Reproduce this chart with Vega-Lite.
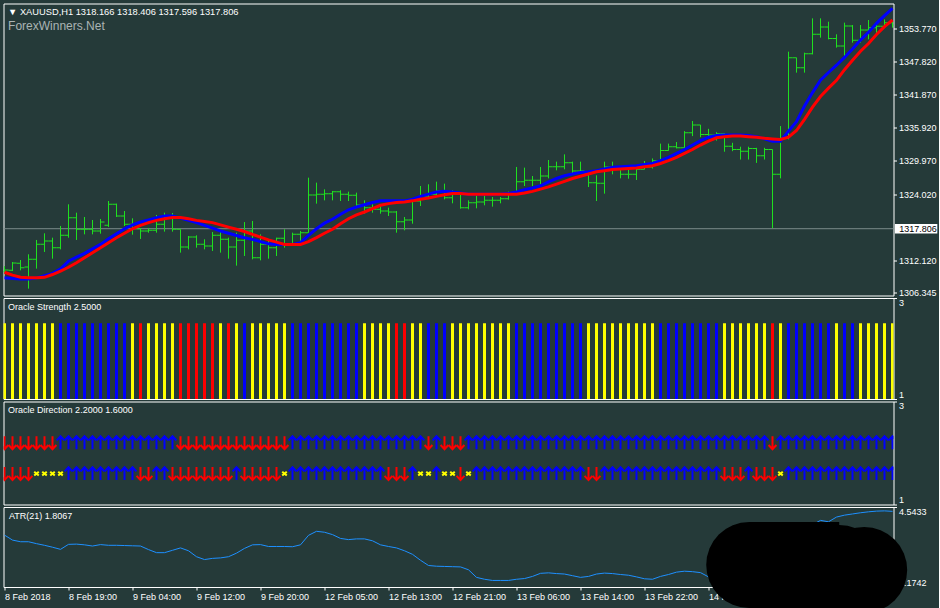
{
"$schema": "https://vega.github.io/schema/vega-lite/v6.json",
"background": "#253a39",
"padding": {"left": 2.5, "top": 2.5, "right": 0, "bottom": 0},
"bounds": "flush",
"spacing": 2.5,
"resolve": {"scale": {"color": "independent", "shape": "independent"}},
"config": {
  "view": {"stroke": "#ffffff", "strokeWidth": 1},
  "axis": {"labelColor": "#ffffff", "tickColor": "#ffffff", "domain": false, "grid": false, "labelFont": "Liberation Sans", "labelFontSize": 9, "tickSize": 3},
  "text": {"font": "Liberation Sans"}
},
"datasets": {
"one": [{}],
"blob": [{"x": 93.09, "y": 2.1007}, {"x": 104.34, "y": 1.9744}, {"x": 107.46, "y": 1.8902}],
"bars": [
{"i":0,"o":1310.2,"h":1311.1,"l":1309.9,"c":1310.4,"b":1309.0,"r":1310.0,"s":"Y","d1":"d","d2":"d","a":3.36},
{"i":1,"o":1310.35,"h":1311.84,"l":1310.23,"c":1311.66,"b":1308.9,"r":1309.5,"s":"Y","d1":"d","d2":"d","a":3.15},
{"i":2,"o":1311.6,"h":1312.2,"l":1310.35,"c":1310.83,"b":1308.8,"r":1309.1,"s":"Y","d1":"d","d2":"d","a":3.08},
{"i":3,"o":1310.95,"h":1313.22,"l":1307.07,"c":1312.32,"b":1308.8,"r":1309.0,"s":"Y","d1":"d","d2":"d","a":3.08},
{"i":4,"o":1312.32,"h":1315.79,"l":1310.65,"c":1315.01,"b":1309.0,"r":1309.0,"s":"Y","d1":"d","d2":"x","a":3.0},
{"i":5,"o":1315.01,"h":1316.98,"l":1313.64,"c":1315.61,"b":1309.4,"r":1309.1,"s":"Y","d1":"d","d2":"x","a":2.93},
{"i":6,"o":1315.61,"h":1316.2,"l":1312.44,"c":1314.41,"b":1309.8,"r":1309.6,"s":"Y","d1":"d","d2":"x","a":2.85},
{"i":7,"o":1314.41,"h":1318.3,"l":1314.11,"c":1316.62,"b":1310.6,"r":1310.2,"s":"B","d1":"u","d2":"x","a":2.76},
{"i":8,"o":1316.62,"h":1322.18,"l":1316.2,"c":1319.79,"b":1312.0,"r":1310.9,"s":"B","d1":"u","d2":"u","a":2.97},
{"i":9,"o":1319.79,"h":1320.68,"l":1315.79,"c":1317.7,"b":1312.7,"r":1311.7,"s":"B","d1":"u","d2":"u","a":2.98},
{"i":10,"o":1317.7,"h":1319.91,"l":1316.8,"c":1317.7,"b":1313.4,"r":1312.6,"s":"B","d1":"u","d2":"u","a":2.95},
{"i":11,"o":1317.7,"h":1319.37,"l":1316.8,"c":1317.4,"b":1314.2,"r":1313.5,"s":"B","d1":"u","d2":"u","a":2.9},
{"i":12,"o":1317.4,"h":1319.55,"l":1316.92,"c":1319.0,"b":1315.0,"r":1314.4,"s":"B","d1":"u","d2":"u","a":2.96},
{"i":13,"o":1318.41,"h":1322.77,"l":1318.12,"c":1322.18,"b":1316.0,"r":1315.3,"s":"B","d1":"u","d2":"u","a":2.93},
{"i":14,"o":1322.18,"h":1322.3,"l":1319.91,"c":1320.09,"b":1316.9,"r":1316.2,"s":"B","d1":"u","d2":"u","a":2.93},
{"i":15,"o":1320.09,"h":1320.98,"l":1318.29,"c":1318.59,"b":1317.8,"r":1317.0,"s":"B","d1":"u","d2":"u","a":2.92},
{"i":16,"o":1318.59,"h":1319.67,"l":1316.74,"c":1317.82,"b":1318.5,"r":1317.8,"s":"Y","d1":"u","d2":"u","a":2.91},
{"i":17,"o":1317.82,"h":1317.88,"l":1315.97,"c":1317.4,"b":1319.0,"r":1318.4,"s":"R","d1":"u","d2":"d","a":2.9},
{"i":18,"o":1317.4,"h":1317.88,"l":1317.1,"c":1317.52,"b":1319.4,"r":1318.9,"s":"Y","d1":"u","d2":"d","a":2.75},
{"i":19,"o":1317.52,"h":1320.27,"l":1317.1,"c":1318.59,"b":1319.8,"r":1319.3,"s":"Y","d1":"u","d2":"u","a":2.62},
{"i":20,"o":1318.59,"h":1320.68,"l":1317.28,"c":1319.67,"b":1320.1,"r":1319.6,"s":"Y","d1":"u","d2":"u","a":2.62},
{"i":21,"o":1319.67,"h":1320.62,"l":1317.28,"c":1317.7,"b":1320.1,"r":1319.8,"s":"Y","d1":"u","d2":"d","a":2.72},
{"i":22,"o":1317.7,"h":1317.7,"l":1313.52,"c":1314.53,"b":1319.7,"r":1319.8,"s":"R","d1":"d","d2":"d","a":2.82},
{"i":23,"o":1314.53,"h":1316.5,"l":1314.11,"c":1316.32,"b":1319.3,"r":1319.6,"s":"R","d1":"d","d2":"d","a":2.7},
{"i":24,"o":1316.32,"h":1316.62,"l":1314.41,"c":1315.01,"b":1318.9,"r":1319.3,"s":"R","d1":"d","d2":"d","a":2.45},
{"i":25,"o":1315.01,"h":1315.91,"l":1314.11,"c":1314.71,"b":1318.4,"r":1319.1,"s":"R","d1":"d","d2":"d","a":2.33},
{"i":26,"o":1314.71,"h":1317.22,"l":1313.82,"c":1316.62,"b":1317.9,"r":1318.9,"s":"R","d1":"d","d2":"d","a":2.38},
{"i":27,"o":1316.62,"h":1317.4,"l":1313.52,"c":1315.91,"b":1317.4,"r":1318.5,"s":"Y","d1":"d","d2":"d","a":2.4},
{"i":28,"o":1315.91,"h":1316.2,"l":1312.44,"c":1314.53,"b":1317.0,"r":1318.1,"s":"R","d1":"d","d2":"d","a":2.45},
{"i":29,"o":1314.53,"h":1317.1,"l":1311.19,"c":1315.73,"b":1316.6,"r":1317.7,"s":"Y","d1":"d","d2":"u","a":2.6},
{"i":30,"o":1315.73,"h":1319.0,"l":1312.92,"c":1317.4,"b":1316.2,"r":1317.3,"s":"B","d1":"d","d2":"d","a":2.8},
{"i":31,"o":1317.4,"h":1319.19,"l":1312.32,"c":1312.62,"b":1315.9,"r":1316.8,"s":"Y","d1":"d","d2":"d","a":2.95},
{"i":32,"o":1312.62,"h":1316.8,"l":1312.14,"c":1315.01,"b":1315.5,"r":1316.3,"s":"Y","d1":"d","d2":"d","a":2.96},
{"i":33,"o":1315.01,"h":1315.61,"l":1312.44,"c":1314.41,"b":1315.1,"r":1315.8,"s":"Y","d1":"d","d2":"d","a":2.88},
{"i":34,"o":1314.41,"h":1316.2,"l":1312.92,"c":1316.09,"b":1315.0,"r":1315.4,"s":"Y","d1":"d","d2":"d","a":2.88},
{"i":35,"o":1316.09,"h":1317.7,"l":1314.41,"c":1315.13,"b":1315.0,"r":1315.0,"s":"Y","d1":"d","d2":"x","a":2.88},
{"i":36,"o":1315.13,"h":1317.1,"l":1314.71,"c":1316.8,"b":1315.0,"r":1315.0,"s":"B","d1":"u","d2":"u","a":2.87},
{"i":37,"o":1316.8,"h":1317.4,"l":1315.01,"c":1317.1,"b":1315.3,"r":1315.0,"s":"B","d1":"u","d2":"u","a":2.95},
{"i":38,"o":1317.1,"h":1326.95,"l":1317.1,"c":1323.85,"b":1316.6,"r":1315.5,"s":"B","d1":"u","d2":"u","a":3.35},
{"i":39,"o":1323.85,"h":1326.06,"l":1322.3,"c":1323.97,"b":1317.8,"r":1316.2,"s":"B","d1":"u","d2":"u","a":3.52},
{"i":40,"o":1323.97,"h":1324.86,"l":1322.89,"c":1324.09,"b":1318.8,"r":1317.0,"s":"B","d1":"u","d2":"u","a":3.48},
{"i":41,"o":1324.09,"h":1324.57,"l":1322.89,"c":1324.45,"b":1319.5,"r":1317.7,"s":"B","d1":"u","d2":"u","a":3.38},
{"i":42,"o":1324.45,"h":1324.69,"l":1322.77,"c":1323.97,"b":1320.4,"r":1318.7,"s":"B","d1":"u","d2":"u","a":3.22},
{"i":43,"o":1323.97,"h":1324.45,"l":1322.77,"c":1323.79,"b":1321.2,"r":1319.6,"s":"B","d1":"u","d2":"u","a":3.17},
{"i":44,"o":1323.79,"h":1324.27,"l":1321.88,"c":1322.06,"b":1321.7,"r":1320.3,"s":"B","d1":"u","d2":"u","a":3.2},
{"i":45,"o":1322.06,"h":1322.89,"l":1320.5,"c":1321.58,"b":1322.1,"r":1320.8,"s":"Y","d1":"u","d2":"u","a":3.2},
{"i":46,"o":1321.58,"h":1322.18,"l":1320.68,"c":1321.28,"b":1322.5,"r":1321.4,"s":"Y","d1":"u","d2":"u","a":3.12},
{"i":47,"o":1321.28,"h":1322.18,"l":1320.5,"c":1320.98,"b":1322.8,"r":1322.0,"s":"Y","d1":"u","d2":"u","a":2.95},
{"i":48,"o":1320.98,"h":1321.58,"l":1320.09,"c":1320.8,"b":1322.8,"r":1322.3,"s":"Y","d1":"u","d2":"d","a":2.88},
{"i":49,"o":1320.8,"h":1320.98,"l":1317.1,"c":1319.07,"b":1322.8,"r":1322.5,"s":"R","d1":"u","d2":"d","a":2.82},
{"i":50,"o":1319.07,"h":1319.91,"l":1317.52,"c":1319.37,"b":1322.8,"r":1322.6,"s":"R","d1":"u","d2":"d","a":2.7},
{"i":51,"o":1319.37,"h":1322.89,"l":1318.71,"c":1322.77,"b":1323.1,"r":1322.8,"s":"Y","d1":"u","d2":"u","a":2.55},
{"i":52,"o":1322.77,"h":1325.46,"l":1321.88,"c":1323.67,"b":1323.6,"r":1323.1,"s":"Y","d1":"u","d2":"x","a":2.3},
{"i":53,"o":1323.67,"h":1325.76,"l":1323.37,"c":1323.97,"b":1324.0,"r":1323.3,"s":"B","d1":"d","d2":"x","a":2.08},
{"i":54,"o":1323.97,"h":1326.24,"l":1323.85,"c":1324.57,"b":1324.4,"r":1323.6,"s":"B","d1":"u","d2":"u","a":2.05},
{"i":55,"o":1324.57,"h":1325.88,"l":1323.07,"c":1323.37,"b":1324.5,"r":1323.9,"s":"B","d1":"d","d2":"x","a":2.04},
{"i":56,"o":1323.37,"h":1324.69,"l":1322.36,"c":1323.97,"b":1324.4,"r":1324.1,"s":"Y","d1":"d","d2":"x","a":2.03},
{"i":57,"o":1323.97,"h":1324.09,"l":1321.4,"c":1321.58,"b":1324.2,"r":1324.1,"s":"Y","d1":"d","d2":"d","a":2.02},
{"i":58,"o":1321.58,"h":1322.89,"l":1321.28,"c":1322.47,"b":1324.0,"r":1324.0,"s":"Y","d1":"u","d2":"x","a":1.9},
{"i":59,"o":1322.47,"h":1324.09,"l":1321.46,"c":1322.59,"b":1324.0,"r":1324.0,"s":"Y","d1":"u","d2":"u","a":1.58},
{"i":60,"o":1322.59,"h":1323.97,"l":1322.0,"c":1322.89,"b":1324.0,"r":1324.0,"s":"Y","d1":"u","d2":"u","a":1.5},
{"i":61,"o":1322.89,"h":1323.49,"l":1321.76,"c":1322.89,"b":1324.0,"r":1324.0,"s":"Y","d1":"u","d2":"u","a":1.45},
{"i":62,"o":1322.89,"h":1323.49,"l":1322.36,"c":1323.19,"b":1324.0,"r":1324.0,"s":"Y","d1":"u","d2":"u","a":1.45},
{"i":63,"o":1323.19,"h":1324.45,"l":1323.01,"c":1323.97,"b":1324.1,"r":1324.0,"s":"Y","d1":"u","d2":"u","a":1.45},
{"i":64,"o":1323.97,"h":1328.87,"l":1323.97,"c":1326.24,"b":1324.4,"r":1324.0,"s":"B","d1":"u","d2":"u","a":1.5},
{"i":65,"o":1326.24,"h":1328.75,"l":1325.46,"c":1326.48,"b":1324.8,"r":1324.2,"s":"B","d1":"u","d2":"u","a":1.53},
{"i":66,"o":1326.48,"h":1327.25,"l":1325.46,"c":1326.48,"b":1325.1,"r":1324.5,"s":"B","d1":"u","d2":"u","a":1.62},
{"i":67,"o":1326.48,"h":1328.87,"l":1325.76,"c":1327.25,"b":1325.5,"r":1324.9,"s":"B","d1":"u","d2":"u","a":1.75},
{"i":68,"o":1327.25,"h":1330.12,"l":1326.83,"c":1328.93,"b":1326.2,"r":1325.3,"s":"B","d1":"u","d2":"u","a":1.77},
{"i":69,"o":1328.93,"h":1329.82,"l":1328.27,"c":1328.93,"b":1326.8,"r":1325.8,"s":"B","d1":"u","d2":"u","a":1.74},
{"i":70,"o":1328.93,"h":1331.13,"l":1328.45,"c":1329.64,"b":1327.3,"r":1326.3,"s":"B","d1":"u","d2":"u","a":1.72},
{"i":71,"o":1329.64,"h":1329.82,"l":1327.67,"c":1328.15,"b":1327.6,"r":1326.8,"s":"B","d1":"u","d2":"u","a":1.65},
{"i":72,"o":1328.15,"h":1329.82,"l":1327.73,"c":1328.15,"b":1327.9,"r":1327.2,"s":"B","d1":"u","d2":"u","a":1.58},
{"i":73,"o":1327.8,"h":1327.85,"l":1325.28,"c":1326.06,"b":1328.0,"r":1327.6,"s":"Y","d1":"u","d2":"d","a":1.62},
{"i":74,"o":1326.06,"h":1327.37,"l":1322.77,"c":1325.94,"b":1328.2,"r":1328.0,"s":"Y","d1":"u","d2":"d","a":1.72},
{"i":75,"o":1325.94,"h":1329.82,"l":1324.09,"c":1328.87,"b":1328.5,"r":1328.2,"s":"Y","d1":"u","d2":"u","a":1.76},
{"i":76,"o":1328.87,"h":1329.82,"l":1327.55,"c":1328.63,"b":1328.8,"r":1328.4,"s":"Y","d1":"u","d2":"u","a":1.74},
{"i":77,"o":1328.63,"h":1329.04,"l":1326.83,"c":1327.55,"b":1328.9,"r":1328.5,"s":"Y","d1":"u","d2":"u","a":1.7},
{"i":78,"o":1327.55,"h":1328.45,"l":1326.77,"c":1327.55,"b":1329.0,"r":1328.6,"s":"Y","d1":"u","d2":"u","a":1.67},
{"i":79,"o":1327.55,"h":1328.63,"l":1326.54,"c":1328.45,"b":1329.1,"r":1328.7,"s":"Y","d1":"u","d2":"u","a":1.6},
{"i":80,"o":1328.45,"h":1329.94,"l":1328.45,"c":1328.87,"b":1329.3,"r":1328.9,"s":"Y","d1":"u","d2":"u","a":1.52},
{"i":81,"o":1328.87,"h":1330.4,"l":1328.6,"c":1330.0,"b":1329.5,"r":1329.1,"s":"Y","d1":"u","d2":"u","a":1.5},
{"i":82,"o":1330.0,"h":1333.05,"l":1329.9,"c":1331.8,"b":1330.0,"r":1329.5,"s":"B","d1":"u","d2":"u","a":1.62},
{"i":83,"o":1331.8,"h":1333.05,"l":1331.8,"c":1332.5,"b":1330.6,"r":1330.0,"s":"B","d1":"u","d2":"u","a":1.7},
{"i":84,"o":1332.5,"h":1333.34,"l":1332.2,"c":1332.3,"b":1331.3,"r":1330.6,"s":"B","d1":"u","d2":"u","a":1.8},
{"i":85,"o":1332.3,"h":1335.3,"l":1332.0,"c":1335.0,"b":1332.0,"r":1331.3,"s":"B","d1":"u","d2":"u","a":1.84},
{"i":86,"o":1335.0,"h":1337.1,"l":1334.4,"c":1336.4,"b":1332.8,"r":1332.0,"s":"B","d1":"u","d2":"u","a":1.82},
{"i":87,"o":1336.4,"h":1336.4,"l":1334.2,"c":1334.7,"b":1333.6,"r":1332.8,"s":"B","d1":"u","d2":"u","a":1.78},
{"i":88,"o":1334.7,"h":1335.7,"l":1334.0,"c":1334.6,"b":1334.2,"r":1333.5,"s":"B","d1":"u","d2":"u","a":1.6},
{"i":89,"o":1334.6,"h":1335.1,"l":1333.6,"c":1334.8,"b":1334.5,"r":1334.1,"s":"B","d1":"u","d2":"u","a":1.6},
{"i":90,"o":1334.8,"h":1334.9,"l":1331.6,"c":1332.6,"b":1334.6,"r":1334.3,"s":"Y","d1":"u","d2":"d","a":1.62},
{"i":91,"o":1332.6,"h":1333.2,"l":1331.7,"c":1332.0,"b":1334.6,"r":1334.4,"s":"Y","d1":"u","d2":"d","a":1.62},
{"i":92,"o":1332.0,"h":1332.5,"l":1330.2,"c":1331.7,"b":1334.6,"r":1334.4,"s":"Y","d1":"u","d2":"d","a":1.6},
{"i":93,"o":1331.7,"h":1332.5,"l":1330.2,"c":1332.2,"b":1334.5,"r":1334.3,"s":"Y","d1":"u","d2":"u","a":1.6},
{"i":94,"o":1332.2,"h":1332.3,"l":1329.6,"c":1330.9,"b":1334.3,"r":1334.2,"s":"Y","d1":"u","d2":"d","a":1.62},
{"i":95,"o":1330.9,"h":1332.3,"l":1330.2,"c":1332.0,"b":1333.9,"r":1334.0,"s":"Y","d1":"u","d2":"d","a":1.65},
{"i":96,"o":1332.0,"h":1332.0,"l":1317.9,"c":1327.55,"b":1333.5,"r":1333.9,"s":"R","d1":"d","d2":"d","a":2.2},
{"i":97,"o":1327.55,"h":1336.2,"l":1326.83,"c":1334.0,"b":1333.5,"r":1333.8,"s":"Y","d1":"u","d2":"x","a":2.5},
{"i":98,"o":1334.0,"h":1349.53,"l":1333.82,"c":1348.45,"b":1335.3,"r":1334.2,"s":"B","d1":"u","d2":"u","a":3.2},
{"i":99,"o":1348.45,"h":1348.45,"l":1345.77,"c":1346.66,"b":1337.0,"r":1335.4,"s":"B","d1":"u","d2":"u","a":3.4},
{"i":100,"o":1346.66,"h":1349.35,"l":1345.77,"c":1349.17,"b":1339.8,"r":1337.4,"s":"B","d1":"u","d2":"u","a":3.65},
{"i":101,"o":1349.17,"h":1355.5,"l":1349.05,"c":1352.64,"b":1342.2,"r":1339.6,"s":"B","d1":"u","d2":"u","a":3.8},
{"i":102,"o":1352.64,"h":1355.5,"l":1352.04,"c":1353.95,"b":1344.4,"r":1341.5,"s":"B","d1":"u","d2":"u","a":3.98},
{"i":103,"o":1353.95,"h":1354.9,"l":1351.74,"c":1351.9,"b":1345.8,"r":1343.0,"s":"B","d1":"u","d2":"u","a":3.92},
{"i":104,"o":1351.9,"h":1352.64,"l":1350.25,"c":1350.55,"b":1347.1,"r":1344.4,"s":"Y","d1":"u","d2":"u","a":4.12},
{"i":105,"o":1350.55,"h":1354.73,"l":1348.75,"c":1354.13,"b":1348.5,"r":1346.3,"s":"B","d1":"u","d2":"u","a":4.2},
{"i":106,"o":1354.13,"h":1354.3,"l":1351.14,"c":1351.56,"b":1350.0,"r":1348.0,"s":"B","d1":"u","d2":"u","a":4.25},
{"i":107,"o":1351.56,"h":1354.3,"l":1351.14,"c":1353.4,"b":1351.6,"r":1349.6,"s":"Y","d1":"u","d2":"u","a":4.3},
{"i":108,"o":1353.4,"h":1355.2,"l":1351.74,"c":1353.83,"b":1353.0,"r":1351.0,"s":"Y","d1":"u","d2":"u","a":4.34},
{"i":109,"o":1353.83,"h":1354.6,"l":1352.9,"c":1354.1,"b":1354.6,"r":1352.6,"s":"Y","d1":"u","d2":"u","a":4.37},
{"i":110,"o":1354.1,"h":1355.3,"l":1353.83,"c":1354.7,"b":1356.0,"r":1354.0,"s":"Y","d1":"u","d2":"u","a":4.38},
{"i":111,"o":1354.7,"h":1354.9,"l":1353.83,"c":1354.3,"b":1357.3,"r":1355.2,"s":"Y","d1":"u","d2":"u","a":4.36}
]
},
"vconcat": [
{
  "width": 890, "height": 292,
  "data": {"name": "bars"},
  "resolve": {"axis": {"x": "independent", "y": "independent"}},
  "layer": [
    {"data": {"name": "one"}, "mark": {"type": "rule", "color": "#7b8b8b", "strokeWidth": 1},
     "encoding": {"y": {"datum": 1317.806, "type": "quantitative", "scale": {"domain": [1305.84, 1358.16], "nice": false, "zero": false},
       "axis": {"orient": "right", "values": [1306.345, 1312.12, 1324.02, 1329.97, 1335.92, 1341.87, 1347.82, 1353.77], "labelExpr": "format(datum.value, '.3f')", "tickSize": 3, "labelPadding": 2, "title": null, "labelOverlap": false}}}},
    {"mark": {"type": "rule", "color": "#1fe01f", "strokeWidth": 1, "clip": true},
     "encoding": {"x": {"field": "i", "type": "quantitative", "scale": {"domain": [-0.125, 111.125], "nice": false, "zero": false}, "axis": null},
       "y": {"field": "l", "type": "quantitative", "scale": {"domain": [1305.84, 1358.16], "nice": false, "zero": false}, "axis": null},
       "y2": {"field": "h"}}},
    {"mark": {"type": "tick", "orient": "horizontal", "size": 4, "thickness": 1, "xOffset": -2, "color": "#1fe01f", "clip": true, "opacity": 1},
     "encoding": {"x": {"field": "i", "type": "quantitative", "scale": {"domain": [-0.125, 111.125], "nice": false, "zero": false}, "axis": null},
       "y": {"field": "o", "type": "quantitative", "scale": {"domain": [1305.84, 1358.16], "nice": false, "zero": false}, "axis": null}}},
    {"mark": {"type": "tick", "orient": "horizontal", "size": 4, "thickness": 1, "xOffset": 2, "color": "#1fe01f", "clip": true, "opacity": 1},
     "encoding": {"x": {"field": "i", "type": "quantitative", "scale": {"domain": [-0.125, 111.125], "nice": false, "zero": false}, "axis": null},
       "y": {"field": "c", "type": "quantitative", "scale": {"domain": [1305.84, 1358.16], "nice": false, "zero": false}, "axis": null}}},
    {"mark": {"type": "line", "color": "#0000ff", "strokeWidth": 3, "clip": true},
     "encoding": {"x": {"field": "i", "type": "quantitative", "scale": {"domain": [-0.125, 111.125], "nice": false, "zero": false}, "axis": null},
       "y": {"field": "b", "type": "quantitative", "scale": {"domain": [1305.84, 1358.16], "nice": false, "zero": false}, "axis": null}}},
    {"mark": {"type": "line", "color": "#ff0000", "strokeWidth": 3, "clip": true},
     "encoding": {"x": {"field": "i", "type": "quantitative", "scale": {"domain": [-0.125, 111.125], "nice": false, "zero": false}, "axis": null},
       "y": {"field": "r", "type": "quantitative", "scale": {"domain": [1305.84, 1358.16], "nice": false, "zero": false}, "axis": null}}},
    {"data": {"name": "one"}, "mark": {"type": "rect", "color": "#ffffff", "opacity": 1},
     "encoding": {"x": {"datum": 111.3, "type": "quantitative", "scale": {"domain": [-0.125, 111.125], "nice": false, "zero": false}, "axis": null}, "x2": {"datum": 116.6},
       "y": {"datum": 1318.66, "type": "quantitative", "scale": {"domain": [1305.84, 1358.16], "nice": false, "zero": false}, "axis": null}, "y2": {"datum": 1316.95}}},
    {"data": {"name": "one"}, "mark": {"type": "text", "align": "left", "baseline": "middle", "color": "#000000", "fontSize": 9},
     "encoding": {"x": {"datum": 111.85, "type": "quantitative", "scale": {"domain": [-0.125, 111.125], "nice": false, "zero": false}, "axis": null},
       "y": {"datum": 1317.806, "type": "quantitative", "scale": {"domain": [1305.84, 1358.16], "nice": false, "zero": false}, "axis": null},
       "text": {"value": "1317.806"}}},
    {"data": {"name": "one"}, "mark": {"type": "text", "align": "left", "baseline": "middle", "color": "#ffffff", "fontSize": 9.3},
     "encoding": {"x": {"datum": 0.45, "type": "quantitative", "scale": {"domain": [-0.125, 111.125], "nice": false, "zero": false}, "axis": null},
       "y": {"datum": 1356.64, "type": "quantitative", "scale": {"domain": [1305.84, 1358.16], "nice": false, "zero": false}, "axis": null},
       "text": {"value": "▼  XAUUSD,H1  1318.166 1318.406 1317.596 1317.806"}}},
    {"data": {"name": "one"}, "mark": {"type": "text", "align": "left", "baseline": "middle", "color": "#aab4b4", "fontSize": 12},
     "encoding": {"x": {"datum": 0.45, "type": "quantitative", "scale": {"domain": [-0.125, 111.125], "nice": false, "zero": false}, "axis": null},
       "y": {"datum": 1354.13, "type": "quantitative", "scale": {"domain": [1305.84, 1358.16], "nice": false, "zero": false}, "axis": null},
       "text": {"value": "ForexWinners.Net"}}}
  ]
},
{
  "width": 890, "height": 101,
  "data": {"name": "bars"},
  "resolve": {"axis": {"x": "independent", "y": "independent"}},
  "layer": [
    {"mark": {"type": "rule", "strokeWidth": 3, "clip": true},
     "encoding": {"x": {"field": "i", "type": "quantitative", "scale": {"domain": [-0.125, 111.125], "nice": false, "zero": false}, "axis": null},
       "y": {"datum": 1, "type": "quantitative", "scale": {"domain": [1, 3], "nice": false, "zero": false},
         "axis": {"orient": "right", "values": [1, 3], "labelFlush": true, "tickSize": 3, "labelPadding": 2, "title": null}},
       "y2": {"datum": 2.5},
       "color": {"field": "s", "type": "nominal", "scale": {"domain": ["Y", "B", "R"], "range": ["#ffff00", "#0000ff", "#ff0000"]}, "legend": null}}},
    {"data": {"name": "one"}, "mark": {"type": "text", "align": "left", "baseline": "middle", "color": "#ffffff", "fontSize": 9},
     "encoding": {"x": {"datum": 0.45, "type": "quantitative", "scale": {"domain": [-0.125, 111.125], "nice": false, "zero": false}, "axis": null},
       "y": {"datum": 2.83, "type": "quantitative", "scale": {"domain": [1, 3], "nice": false, "zero": false}, "axis": null},
       "text": {"value": "Oracle Strength 2.5000"}}}
  ]
},
{
  "width": 890, "height": 103,
  "data": {"name": "bars"},
  "resolve": {"axis": {"x": "independent", "y": "independent"}},
  "layer": [
    {"mark": {"type": "point", "filled": false, "size": 169, "strokeWidth": 2, "opacity": 1, "clip": true},
     "encoding": {"x": {"field": "i", "type": "quantitative", "scale": {"domain": [-0.125, 111.125], "nice": false, "zero": false}, "axis": null},
       "y": {"datum": 2.2, "type": "quantitative", "scale": {"domain": [1, 3], "nice": false, "zero": false},
         "axis": {"orient": "right", "values": [1, 3], "labelFlush": true, "tickSize": 3, "labelPadding": 2, "title": null}},
       "shape": {"field": "d1", "type": "nominal", "scale": {"domain": ["u", "d", "x"], "range": ["M0,1L0,-1M-0.6,-0.35L0,-1L0.6,-0.35", "M0,-1L0,1M-0.6,0.35L0,1L0.6,0.35", "M-0.35,-0.3L0.35,0.3M-0.35,0.3L0.35,-0.3"]}, "legend": null},
       "color": {"field": "d1", "type": "nominal", "scale": {"domain": ["u", "d", "x"], "range": ["#0000ff", "#ff0000", "#ffff00"]}, "legend": null}}},
    {"mark": {"type": "point", "filled": false, "size": 169, "strokeWidth": 2, "opacity": 1, "clip": true},
     "encoding": {"x": {"field": "i", "type": "quantitative", "scale": {"domain": [-0.125, 111.125], "nice": false, "zero": false}, "axis": null},
       "y": {"datum": 1.6, "type": "quantitative", "scale": {"domain": [1, 3], "nice": false, "zero": false}, "axis": null},
       "shape": {"field": "d2", "type": "nominal", "scale": {"domain": ["u", "d", "x"], "range": ["M0,1L0,-1M-0.6,-0.35L0,-1L0.6,-0.35", "M0,-1L0,1M-0.6,0.35L0,1L0.6,0.35", "M-0.35,-0.3L0.35,0.3M-0.35,0.3L0.35,-0.3"]}, "legend": null},
       "color": {"field": "d2", "type": "nominal", "scale": {"domain": ["u", "d", "x"], "range": ["#0000ff", "#ff0000", "#ffff00"]}, "legend": null}}},
    {"data": {"name": "one"}, "mark": {"type": "text", "align": "left", "baseline": "middle", "color": "#ffffff", "fontSize": 9},
     "encoding": {"x": {"datum": 0.45, "type": "quantitative", "scale": {"domain": [-0.125, 111.125], "nice": false, "zero": false}, "axis": null},
       "y": {"datum": 2.84, "type": "quantitative", "scale": {"domain": [1, 3], "nice": false, "zero": false}, "axis": null},
       "text": {"value": "Oracle Direction 2.2000 1.6000"}}}
  ]
},
{
  "width": 890, "height": 80,
  "data": {"name": "bars"},
  "resolve": {"axis": {"x": "independent", "y": "independent"}},
  "layer": [
    {"mark": {"type": "line", "color": "#1e90ff", "strokeWidth": 1, "clip": true},
     "encoding": {"x": {"field": "i", "type": "quantitative", "scale": {"domain": [-0.125, 111.125], "nice": false, "zero": false},
         "axis": {"orient": "bottom", "values": [0, 8, 16, 24, 32, 40, 48, 56, 64, 72, 80, 88, 96, 104], "labelExpr": "['8 Feb 2018','8 Feb 19:00','9 Feb 04:00','9 Feb 12:00','9 Feb 20:00','12 Feb 05:00','12 Feb 13:00','12 Feb 21:00','13 Feb 06:00','13 Feb 14:00','13 Feb 22:00','14 Feb 07:00','14 Feb 15:00','15 Feb 00:00'][round(datum.value / 8)]", "labelAlign": "left", "labelFlush": false, "labelOverlap": false, "labelBound": false, "tickSize": 3, "labelPadding": 2, "title": null}},
       "y": {"field": "a", "type": "quantitative", "scale": {"domain": [1.1742, 4.5433], "nice": false, "zero": false},
         "axis": {"orient": "right", "values": [1.1742, 4.5433], "labelExpr": "format(datum.value, '.4f')", "labelFlush": true, "tickSize": 3, "labelPadding": 2, "title": null}}}},
    {"data": {"name": "one"}, "mark": {"type": "text", "align": "left", "baseline": "middle", "color": "#ffffff", "fontSize": 9},
     "encoding": {"x": {"datum": 0.55, "type": "quantitative", "scale": {"domain": [-0.125, 111.125], "nice": false, "zero": false}, "axis": null},
       "y": {"datum": 4.147, "type": "quantitative", "scale": {"domain": [1.1742, 4.5433], "nice": false, "zero": false}, "axis": null},
       "text": {"value": "ATR(21) 1.8067"}}},
    {"data": {"name": "one"}, "mark": {"type": "rect", "color": "#000000", "opacity": 1},
     "encoding": {"x": {"datum": 93.09, "type": "quantitative", "scale": {"domain": [-0.125, 111.125], "nice": false, "zero": false}, "axis": null}, "x2": {"datum": 104.34},
       "y": {"datum": 3.9116, "type": "quantitative", "scale": {"domain": [1.1742, 4.5433], "nice": false, "zero": false}, "axis": null}, "y2": {"datum": 0.2477}}},
    {"data": {"name": "blob"}, "mark": {"type": "circle", "color": "#000000", "size": 7396, "opacity": 1},
     "encoding": {"x": {"field": "x", "type": "quantitative", "scale": {"domain": [-0.125, 111.125], "nice": false, "zero": false}, "axis": null},
       "y": {"field": "y", "type": "quantitative", "scale": {"domain": [1.1742, 4.5433], "nice": false, "zero": false}, "axis": null}}}
  ]
}
]
}
